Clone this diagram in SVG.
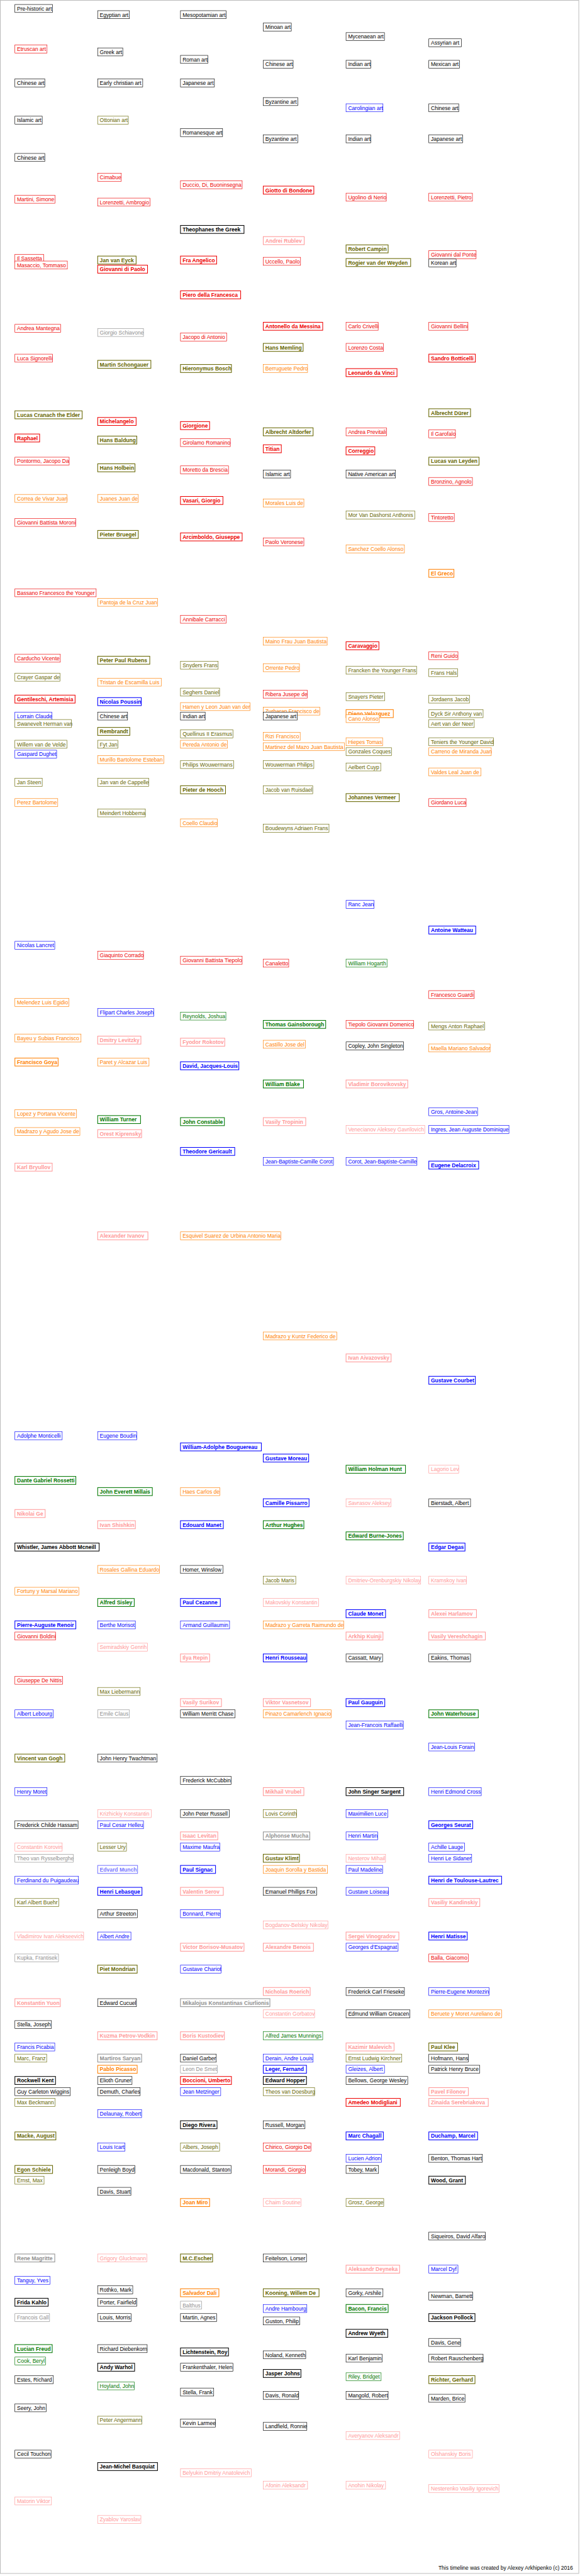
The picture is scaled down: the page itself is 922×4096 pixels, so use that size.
<svg xmlns="http://www.w3.org/2000/svg" width="922" height="4096" viewBox="0 0 922 4096">
<style>
text{font-family:"Liberation Sans",Arial,sans-serif;font-size:13px}
rect{fill:#fff;stroke-width:1}
.B text{font-weight:bold}
.B rect{stroke-width:1.6}
.k rect{stroke:#000}.k text{fill:#000}
.r rect{stroke:#ee0000}.r text{fill:#ee0000}
.o rect{stroke:#666600}.o text{fill:#666600}
.b rect{stroke:#0000ff}.b text{fill:#0000ff}
.g rect{stroke:#007700}.g text{fill:#007700}
.n rect{stroke:#ff7f00}.n text{fill:#ff7f00}
.p rect{stroke:#ff9999}.p text{fill:#ff9999}
.y rect{stroke:#909090}.y text{fill:#909090}
.v rect{stroke:#7777ff}.v text{fill:#7777ff}
#frame{fill:#fff;stroke:#bbbbbb;stroke-width:1.5}
#footer{font-size:13px;fill:#000}
</style>
<g transform="scale(0.658)">
<rect id="frame" x="0.75" y="0.75" width="1397.5" height="6218"/>
<g id="connectors"/>
<g id="nodes">
<g id="n1" class="k"><rect x="36" y="10.8" width="91" height="19.3"/><text x="41" y="25.3">Pre-historic art</text></g>
<g id="n2" class="r"><rect x="36" y="108.8" width="77.6" height="19.3"/><text x="41" y="123.3">Etruscan art</text></g>
<g id="n3" class="k"><rect x="36" y="190.8" width="72.2" height="19.3"/><text x="41" y="205.3">Chinese art</text></g>
<g id="n4" class="k"><rect x="36" y="280.8" width="66" height="19.3"/><text x="41" y="295.3">Islamic art</text></g>
<g id="n5" class="k"><rect x="36" y="370.8" width="72.2" height="19.3"/><text x="41" y="385.3">Chinese art</text></g>
<g id="n6" class="r"><rect x="36" y="471.8" width="97.2" height="19.3"/><text x="41" y="486.3">Martini, Simone</text></g>
<g id="n7" class="k"><rect x="236" y="25.8" width="76.7" height="19.3"/><text x="241" y="40.3">Egyptian art</text></g>
<g id="n8" class="k"><rect x="236" y="115.8" width="60.6" height="19.3"/><text x="241" y="130.3">Greek art</text></g>
<g id="n9" class="k"><rect x="236" y="190.8" width="108.8" height="19.3"/><text x="241" y="205.3">Early christian art</text></g>
<g id="n10" class="o"><rect x="236" y="280.8" width="74" height="19.3"/><text x="241" y="295.3">Ottonian art</text></g>
<g id="n11" class="r"><rect x="236" y="418.8" width="57" height="19.3"/><text x="241" y="433.3">Cimabue</text></g>
<g id="n12" class="r"><rect x="236" y="478.8" width="126.7" height="19.3"/><text x="241" y="493.3">Lorenzetti, Ambrogio</text></g>
<g id="n13" class="k"><rect x="436" y="25.8" width="110.6" height="19.3"/><text x="441" y="40.3">Mesopotamian art</text></g>
<g id="n14" class="k"><rect x="436" y="133.8" width="66" height="19.3"/><text x="441" y="148.3">Roman art</text></g>
<g id="n15" class="k"><rect x="436" y="190.8" width="82" height="19.3"/><text x="441" y="205.3">Japanese art</text></g>
<g id="n16" class="k"><rect x="436" y="310.8" width="101.7" height="19.3"/><text x="441" y="325.3">Romanesque art</text></g>
<g id="n17" class="r"><rect x="436" y="436.8" width="149" height="19.3"/><text x="441" y="451.3">Duccio, Di, Buoninsegna</text></g>
<g id="n18" class="k"><rect x="636" y="55.8" width="67.8" height="19.3"/><text x="641" y="70.3">Minoan art</text></g>
<g id="n19" class="k"><rect x="636" y="145.8" width="72.2" height="19.3"/><text x="641" y="160.3">Chinese art</text></g>
<g id="n20" class="k"><rect x="636" y="235.8" width="83.8" height="19.3"/><text x="641" y="250.3">Byzantine art</text></g>
<g id="n21" class="k"><rect x="636" y="325.8" width="83.8" height="19.3"/><text x="641" y="340.3">Byzantine art</text></g>
<g id="n22" class="r B"><rect x="636" y="449.8" width="122.2" height="19.3"/><text x="641" y="464.3">Giotto di Bondone</text></g>
<g id="n23" class="k"><rect x="836" y="78.8" width="92.8" height="19.3"/><text x="841" y="93.3">Mycenaean art</text></g>
<g id="n24" class="k"><rect x="836" y="145.8" width="59.7" height="19.3"/><text x="841" y="160.3">Indian art</text></g>
<g id="n25" class="b"><rect x="836" y="250.8" width="89.2" height="19.3"/><text x="841" y="265.3">Carolingian art</text></g>
<g id="n26" class="k"><rect x="836" y="325.8" width="59.7" height="19.3"/><text x="841" y="340.3">Indian art</text></g>
<g id="n27" class="r"><rect x="836" y="466.8" width="97.2" height="19.3"/><text x="841" y="481.3">Ugolino di Nerio</text></g>
<g id="n28" class="k"><rect x="1036" y="93.8" width="78.5" height="19.3"/><text x="1041" y="108.3">Assyrian art</text></g>
<g id="n29" class="k"><rect x="1036" y="145.8" width="74" height="19.3"/><text x="1041" y="160.3">Mexican art</text></g>
<g id="n30" class="k"><rect x="1036" y="250.8" width="72.2" height="19.3"/><text x="1041" y="265.3">Chinese art</text></g>
<g id="n31" class="k"><rect x="1036" y="325.8" width="82" height="19.3"/><text x="1041" y="340.3">Japanese art</text></g>
<g id="n32" class="r"><rect x="1036" y="466.8" width="105.3" height="19.3"/><text x="1041" y="481.3">Lorenzetti, Pietro</text></g>
<g id="n33" class="r"><rect x="36" y="614.8" width="69.5" height="19.3"/><text x="41" y="629.3">Il Sassetta</text></g>
<g id="n34" class="r"><rect x="36" y="630.8" width="126.7" height="19.3"/><text x="41" y="645.3">Masaccio, Tommaso</text></g>
<g id="n35" class="r"><rect x="36" y="783.8" width="110.6" height="19.3"/><text x="41" y="798.3">Andrea Mantegna</text></g>
<g id="n36" class="r"><rect x="36" y="855.8" width="91" height="19.3"/><text x="41" y="870.3">Luca Signorelli</text></g>
<g id="n37" class="o B"><rect x="36" y="992.8" width="162.4" height="19.3"/><text x="41" y="1007.3">Lucas Cranach the Elder</text></g>
<g id="n38" class="o B"><rect x="236" y="618.8" width="92.8" height="19.3"/><text x="241" y="633.3">Jan van Eyck</text></g>
<g id="n39" class="r B"><rect x="236" y="640.8" width="120.4" height="19.3"/><text x="241" y="655.3">Giovanni di Paolo</text></g>
<g id="n40" class="y"><rect x="236" y="793.8" width="110.6" height="19.3"/><text x="241" y="808.3">Giorgio Schiavone</text></g>
<g id="n41" class="o B"><rect x="236" y="870.8" width="128.5" height="19.3"/><text x="241" y="885.3">Martin Schongauer</text></g>
<g id="n42" class="r B"><rect x="236" y="1008.8" width="92.8" height="19.3"/><text x="241" y="1023.3">Michelangelo</text></g>
<g id="n43" class="k B"><rect x="436" y="544.8" width="153.5" height="19.3"/><text x="441" y="559.3">Theophanes the Greek</text></g>
<g id="n44" class="r B"><rect x="436" y="618.8" width="87.4" height="19.3"/><text x="441" y="633.3">Fra Angelico</text></g>
<g id="n45" class="r B"><rect x="436" y="702.8" width="145.4" height="19.3"/><text x="441" y="717.3">Piero della Francesca</text></g>
<g id="n46" class="r"><rect x="436" y="804.8" width="111.5" height="19.3"/><text x="441" y="819.3">Jacopo di Antonio</text></g>
<g id="n47" class="o B"><rect x="436" y="880.8" width="123.1" height="19.3"/><text x="441" y="895.3">Hieronymus Bosch</text></g>
<g id="n48" class="r B"><rect x="436" y="1018.8" width="70.4" height="19.3"/><text x="441" y="1033.3">Giorgione</text></g>
<g id="n49" class="p B"><rect x="636" y="571.8" width="99" height="19.3"/><text x="641" y="586.3">Andrei Rublev</text></g>
<g id="n50" class="r"><rect x="636" y="621.8" width="90.1" height="19.3"/><text x="641" y="636.3">Uccello, Paolo</text></g>
<g id="n51" class="r B"><rect x="636" y="778.8" width="143.6" height="19.3"/><text x="641" y="793.3">Antonello da Messina</text></g>
<g id="n52" class="o B"><rect x="636" y="829.8" width="96.3" height="19.3"/><text x="641" y="844.3">Hans Memling</text></g>
<g id="n53" class="n"><rect x="636" y="880.8" width="107" height="19.3"/><text x="641" y="895.3">Berruguete Pedro</text></g>
<g id="n54" class="o B"><rect x="636" y="1033.8" width="120.4" height="19.3"/><text x="641" y="1048.3">Albrecht Altdorfer</text></g>
<g id="n55" class="o B"><rect x="836" y="591.8" width="101.7" height="19.3"/><text x="841" y="606.3">Robert Campin</text></g>
<g id="n56" class="o B"><rect x="836" y="624.8" width="156.1" height="19.3"/><text x="841" y="639.3">Rogier van der Weyden</text></g>
<g id="n57" class="r"><rect x="836" y="778.8" width="77.6" height="19.3"/><text x="841" y="793.3">Carlo Crivelli</text></g>
<g id="n58" class="r"><rect x="836" y="829.8" width="90.1" height="19.3"/><text x="841" y="844.3">Lorenzo Costa</text></g>
<g id="n59" class="r B"><rect x="836" y="890.8" width="123.1" height="19.3"/><text x="841" y="905.3">Leonardo da Vinci</text></g>
<g id="n60" class="r"><rect x="836" y="1033.8" width="98.1" height="19.3"/><text x="841" y="1048.3">Andrea Previtali</text></g>
<g id="n61" class="r"><rect x="1036" y="605.8" width="114.2" height="19.3"/><text x="1041" y="620.3">Giovanni dal Ponte</text></g>
<g id="n62" class="k"><rect x="1036" y="625.8" width="66" height="19.3"/><text x="1041" y="640.3">Korean art</text></g>
<g id="n63" class="r"><rect x="1036" y="778.8" width="94.5" height="19.3"/><text x="1041" y="793.3">Giovanni Bellini</text></g>
<g id="n64" class="r B"><rect x="1036" y="855.8" width="112.4" height="19.3"/><text x="1041" y="870.3">Sandro Botticelli</text></g>
<g id="n65" class="o B"><rect x="1036" y="987.8" width="100.8" height="19.3"/><text x="1041" y="1002.3">Albrecht Dürer</text></g>
<g id="n66" class="r"><rect x="1036" y="1038.8" width="64.2" height="19.3"/><text x="1041" y="1053.3">Il Garofalo</text></g>
<g id="n67" class="r B"><rect x="36" y="1048.8" width="59.7" height="19.3"/><text x="41" y="1063.3">Raphael</text></g>
<g id="n68" class="r"><rect x="36" y="1104.8" width="131.1" height="19.3"/><text x="41" y="1119.3">Pontormo, Jacopo Da</text></g>
<g id="n69" class="n"><rect x="36" y="1194.8" width="125.8" height="19.3"/><text x="41" y="1209.3">Correa de Vivar Juan</text></g>
<g id="n70" class="r"><rect x="36" y="1252.8" width="147.2" height="19.3"/><text x="41" y="1267.3">Giovanni Battista Moroni</text></g>
<g id="n71" class="r"><rect x="36" y="1422.8" width="196.3" height="19.3"/><text x="41" y="1437.3">Bassano Francesco the Younger</text></g>
<g id="n72" class="o B"><rect x="236" y="1053.8" width="94.5" height="19.3"/><text x="241" y="1068.3">Hans Baldung</text></g>
<g id="n73" class="o B"><rect x="236" y="1120.8" width="90.1" height="19.3"/><text x="241" y="1135.3">Hans Holbein</text></g>
<g id="n74" class="n"><rect x="236" y="1194.8" width="98.1" height="19.3"/><text x="241" y="1209.3">Juanes Juan de</text></g>
<g id="n75" class="o B"><rect x="236" y="1281.8" width="98.1" height="19.3"/><text x="241" y="1296.3">Pieter Bruegel</text></g>
<g id="n76" class="n"><rect x="236" y="1445.8" width="144.5" height="19.3"/><text x="241" y="1460.3">Pantoja de la Cruz Juan</text></g>
<g id="n77" class="r"><rect x="436" y="1059.8" width="120.4" height="19.3"/><text x="441" y="1074.3">Girolamo Romanino</text></g>
<g id="n78" class="r"><rect x="436" y="1125.8" width="116" height="19.3"/><text x="441" y="1140.3">Moretto da Brescia</text></g>
<g id="n79" class="r B"><rect x="436" y="1199.8" width="102.6" height="19.3"/><text x="441" y="1214.3">Vasari, Giorgio</text></g>
<g id="n80" class="r B"><rect x="436" y="1287.8" width="149" height="19.3"/><text x="441" y="1302.3">Arcimboldo, Giuseppe</text></g>
<g id="n81" class="r"><rect x="436" y="1486.8" width="110.6" height="19.3"/><text x="441" y="1501.3">Annibale Carracci</text></g>
<g id="n82" class="r B"><rect x="636" y="1074.8" width="43.6" height="19.3"/><text x="641" y="1089.3">Titian</text></g>
<g id="n83" class="k"><rect x="636" y="1135.8" width="66" height="19.3"/><text x="641" y="1150.3">Islamic art</text></g>
<g id="n84" class="n"><rect x="636" y="1205.8" width="98.1" height="19.3"/><text x="641" y="1220.3">Morales Luis de</text></g>
<g id="n85" class="r"><rect x="636" y="1299.8" width="98.1" height="19.3"/><text x="641" y="1314.3">Paolo Veronese</text></g>
<g id="n86" class="n"><rect x="636" y="1539.8" width="154.4" height="19.3"/><text x="641" y="1554.3">Maino Frau Juan Bautista</text></g>
<g id="n87" class="r B"><rect x="836" y="1079.8" width="69.5" height="19.3"/><text x="841" y="1094.3">Correggio</text></g>
<g id="n88" class="k"><rect x="836" y="1135.8" width="119.5" height="19.3"/><text x="841" y="1150.3">Native American art</text></g>
<g id="n89" class="o"><rect x="836" y="1234.8" width="166" height="19.3"/><text x="841" y="1249.3">Mor Van Dashorst Anthonis</text></g>
<g id="n90" class="n"><rect x="836" y="1316.8" width="141" height="19.3"/><text x="841" y="1331.3">Sanchez Coello Alonso</text></g>
<g id="n91" class="r B"><rect x="836" y="1550.8" width="79.4" height="19.3"/><text x="841" y="1565.3">Caravaggio</text></g>
<g id="n92" class="o B"><rect x="1036" y="1104.8" width="121.3" height="19.3"/><text x="1041" y="1119.3">Lucas van Leyden</text></g>
<g id="n93" class="r"><rect x="1036" y="1153.8" width="105.3" height="19.3"/><text x="1041" y="1168.3">Bronzino, Agnolo</text></g>
<g id="n94" class="r"><rect x="1036" y="1240.8" width="61.5" height="19.3"/><text x="1041" y="1255.3">Tintoretto</text></g>
<g id="n95" class="n B"><rect x="1036" y="1375.8" width="60.6" height="19.3"/><text x="1041" y="1390.3">El Greco</text></g>
<g id="n96" class="r"><rect x="36" y="1580.8" width="109.7" height="19.3"/><text x="41" y="1595.3">Carducho Vicente</text></g>
<g id="n97" class="o"><rect x="36" y="1626.8" width="108.8" height="19.3"/><text x="41" y="1641.3">Crayer Gaspar de</text></g>
<g id="n98" class="r B"><rect x="36" y="1679.8" width="145.4" height="19.3"/><text x="41" y="1694.3">Gentileschi, Artemisia</text></g>
<g id="n99" class="b"><rect x="36" y="1720.8" width="89.2" height="19.3"/><text x="41" y="1735.3">Lorrain Claude</text></g>
<g id="n100" class="o"><rect x="36" y="1738.8" width="136.5" height="19.3"/><text x="41" y="1753.3">Swanevelt Herman van</text></g>
<g id="n101" class="o"><rect x="36" y="1788.8" width="125.8" height="19.3"/><text x="41" y="1803.3">Willem van de Velde</text></g>
<g id="n102" class="b"><rect x="36" y="1812.8" width="100.8" height="19.3"/><text x="41" y="1827.3">Gaspard Dughet</text></g>
<g id="n103" class="o"><rect x="36" y="1880.8" width="66" height="19.3"/><text x="41" y="1895.3">Jan Steen</text></g>
<g id="n104" class="n"><rect x="36" y="1929.8" width="103.5" height="19.3"/><text x="41" y="1944.3">Perez Bartolome</text></g>
<g id="n105" class="o B"><rect x="236" y="1585.8" width="125.8" height="19.3"/><text x="241" y="1600.3">Peter Paul Rubens</text></g>
<g id="n106" class="n"><rect x="236" y="1638.8" width="153.5" height="19.3"/><text x="241" y="1653.3">Tristan de Escamilla Luis</text></g>
<g id="n107" class="b B"><rect x="236" y="1685.8" width="105.3" height="19.3"/><text x="241" y="1700.3">Nicolas Poussin</text></g>
<g id="n108" class="k"><rect x="236" y="1720.8" width="72.2" height="19.3"/><text x="241" y="1735.3">Chinese art</text></g>
<g id="n109" class="o B"><rect x="236" y="1757.8" width="77.6" height="19.3"/><text x="241" y="1772.3">Rembrandt</text></g>
<g id="n110" class="o"><rect x="236" y="1788.8" width="49" height="19.3"/><text x="241" y="1803.3">Fyt Jan</text></g>
<g id="n111" class="n"><rect x="236" y="1825.8" width="159.7" height="19.3"/><text x="241" y="1840.3">Murillo Bartolome Esteban</text></g>
<g id="n112" class="o"><rect x="236" y="1880.8" width="123.1" height="19.3"/><text x="241" y="1895.3">Jan van de Cappelle</text></g>
<g id="n113" class="o"><rect x="236" y="1954.8" width="115.1" height="19.3"/><text x="241" y="1969.3">Meindert Hobbema</text></g>
<g id="n114" class="o"><rect x="436" y="1597.8" width="91" height="19.3"/><text x="441" y="1612.3">Snyders Frans</text></g>
<g id="n115" class="o"><rect x="436" y="1662.8" width="94.5" height="19.3"/><text x="441" y="1677.3">Seghers Daniel</text></g>
<g id="n116" class="n"><rect x="436" y="1697.8" width="167.8" height="19.3"/><text x="441" y="1712.3">Hamen y Leon Juan van der</text></g>
<g id="n117" class="k"><rect x="436" y="1720.8" width="59.7" height="19.3"/><text x="441" y="1735.3">Indian art</text></g>
<g id="n118" class="o"><rect x="436" y="1763.8" width="126.7" height="19.3"/><text x="441" y="1778.3">Quellinus II Erasmus</text></g>
<g id="n119" class="n"><rect x="436" y="1788.8" width="113.3" height="19.3"/><text x="441" y="1803.3">Pereda Antonio de</text></g>
<g id="n120" class="o"><rect x="436" y="1837.8" width="128.5" height="19.3"/><text x="441" y="1852.3">Philips Wouwermans</text></g>
<g id="n121" class="o B"><rect x="436" y="1898.8" width="108.8" height="19.3"/><text x="441" y="1913.3">Pieter de Hooch</text></g>
<g id="n122" class="n"><rect x="436" y="1978.8" width="89.2" height="19.3"/><text x="441" y="1993.3">Coello Claudio</text></g>
<g id="n123" class="n"><rect x="636" y="1603.8" width="87.4" height="19.3"/><text x="641" y="1618.3">Orrente Pedro</text></g>
<g id="n124" class="r"><rect x="636" y="1667.8" width="106.1" height="19.3"/><text x="641" y="1682.3">Ribera Jusepe de</text></g>
<g id="n125" class="n"><rect x="636" y="1708.8" width="136.5" height="19.3"/><text x="641" y="1723.3">Zurbaran Francisco de</text></g>
<g id="n126" class="k"><rect x="636" y="1720.8" width="82" height="19.3"/><text x="641" y="1735.3">Japanese art</text></g>
<g id="n127" class="n"><rect x="636" y="1769.8" width="89.2" height="19.3"/><text x="641" y="1784.3">Rizi Francisco</text></g>
<g id="n128" class="n"><rect x="636" y="1794.8" width="196.3" height="19.3"/><text x="641" y="1809.3">Martinez del Mazo Juan Bautista</text></g>
<g id="n129" class="o"><rect x="636" y="1837.8" width="122.2" height="19.3"/><text x="641" y="1852.3">Wouwerman Philips</text></g>
<g id="n130" class="o"><rect x="636" y="1898.8" width="119.5" height="19.3"/><text x="641" y="1913.3">Jacob van Ruisdael</text></g>
<g id="n131" class="o"><rect x="636" y="1991.8" width="158.8" height="19.3"/><text x="641" y="2006.3">Boudewyns Adriaen Frans</text></g>
<g id="n132" class="o"><rect x="836" y="1609.8" width="170.4" height="19.3"/><text x="841" y="1624.3">Francken the Younger Frans</text></g>
<g id="n133" class="o"><rect x="836" y="1673.8" width="93.6" height="19.3"/><text x="841" y="1688.3">Snayers Pieter</text></g>
<g id="n134" class="n B"><rect x="836" y="1714.8" width="114.2" height="19.3"/><text x="841" y="1729.3">Diego Velazquez</text></g>
<g id="n135" class="n"><rect x="836" y="1726.8" width="80.3" height="19.3"/><text x="841" y="1741.3">Cano Alonso</text></g>
<g id="n136" class="n"><rect x="836" y="1782.8" width="88.3" height="19.3"/><text x="841" y="1797.3">Hiepes Tomas</text></g>
<g id="n137" class="o"><rect x="836" y="1806.8" width="109.7" height="19.3"/><text x="841" y="1821.3">Gonzales Coques</text></g>
<g id="n138" class="o"><rect x="836" y="1843.8" width="83.8" height="19.3"/><text x="841" y="1858.3">Aelbert Cuyp</text></g>
<g id="n139" class="o B"><rect x="836" y="1917.8" width="128.5" height="19.3"/><text x="841" y="1932.3">Johannes Vermeer</text></g>
<g id="n140" class="r"><rect x="1036" y="1574.8" width="70.4" height="19.3"/><text x="1041" y="1589.3">Reni Guido</text></g>
<g id="n141" class="o"><rect x="1036" y="1615.8" width="69.5" height="19.3"/><text x="1041" y="1630.3">Frans Hals</text></g>
<g id="n142" class="o"><rect x="1036" y="1679.8" width="98.1" height="19.3"/><text x="1041" y="1694.3">Jordaens Jacob</text></g>
<g id="n143" class="o"><rect x="1036" y="1714.8" width="131.1" height="19.3"/><text x="1041" y="1729.3">Dyck Sir Anthony van</text></g>
<g id="n144" class="o"><rect x="1036" y="1738.8" width="109.7" height="19.3"/><text x="1041" y="1753.3">Aert van der Neer</text></g>
<g id="n145" class="o"><rect x="1036" y="1782.8" width="156.1" height="19.3"/><text x="1041" y="1797.3">Teniers the Younger David</text></g>
<g id="n146" class="n"><rect x="1036" y="1806.8" width="150.8" height="19.3"/><text x="1041" y="1821.3">Carreno de Miranda Juan</text></g>
<g id="n147" class="n"><rect x="1036" y="1855.8" width="125.8" height="19.3"/><text x="1041" y="1870.3">Valdes Leal Juan de</text></g>
<g id="n148" class="r"><rect x="1036" y="1929.8" width="90.1" height="19.3"/><text x="1041" y="1944.3">Giordano Luca</text></g>
<g id="n149" class="b"><rect x="36" y="2274.8" width="96.3" height="19.3"/><text x="41" y="2289.3">Nicolas Lancret</text></g>
<g id="n150" class="n"><rect x="36" y="2412.8" width="130.3" height="19.3"/><text x="41" y="2427.3">Melendez Luis Egidio</text></g>
<g id="n151" class="n"><rect x="36" y="2498.8" width="159.7" height="19.3"/><text x="41" y="2513.3">Bayeu y Subias Francisco</text></g>
<g id="n152" class="n B"><rect x="36" y="2556.8" width="104.4" height="19.3"/><text x="41" y="2571.3">Francisco Goya</text></g>
<g id="n153" class="r"><rect x="236" y="2298.8" width="110.6" height="19.3"/><text x="241" y="2313.3">Giaquinto Corrado</text></g>
<g id="n154" class="b"><rect x="236" y="2436.8" width="135.6" height="19.3"/><text x="241" y="2451.3">Flipart Charles Joseph</text></g>
<g id="n155" class="p B"><rect x="236" y="2503.8" width="104.4" height="19.3"/><text x="241" y="2518.3">Dmitry Levitzky</text></g>
<g id="n156" class="n"><rect x="236" y="2556.8" width="124" height="19.3"/><text x="241" y="2571.3">Paret y Alcazar Luis</text></g>
<g id="n157" class="r"><rect x="436" y="2310.8" width="149" height="19.3"/><text x="441" y="2325.3">Giovanni Battista Tiepolo</text></g>
<g id="n158" class="g"><rect x="436" y="2445.8" width="109.7" height="19.3"/><text x="441" y="2460.3">Reynolds, Joshua</text></g>
<g id="n159" class="p B"><rect x="436" y="2508.8" width="107" height="19.3"/><text x="441" y="2523.3">Fyodor Rokotov</text></g>
<g id="n160" class="b B"><rect x="436" y="2565.8" width="141" height="19.3"/><text x="441" y="2580.3">David, Jacques-Louis</text></g>
<g id="n161" class="r"><rect x="636" y="2317.8" width="61.5" height="19.3"/><text x="641" y="2332.3">Canaletto</text></g>
<g id="n162" class="g B"><rect x="636" y="2465.8" width="150.8" height="19.3"/><text x="641" y="2480.3">Thomas Gainsborough</text></g>
<g id="n163" class="n"><rect x="636" y="2513.8" width="101.7" height="19.3"/><text x="641" y="2528.3">Castillo Jose del</text></g>
<g id="n164" class="b"><rect x="836" y="2175.8" width="67.8" height="19.3"/><text x="841" y="2190.3">Ranc Jean</text></g>
<g id="n165" class="g"><rect x="836" y="2317.8" width="99" height="19.3"/><text x="841" y="2332.3">William Hogarth</text></g>
<g id="n166" class="r"><rect x="836" y="2465.8" width="163.3" height="19.3"/><text x="841" y="2480.3">Tiepolo Giovanni Domenico</text></g>
<g id="n167" class="k"><rect x="836" y="2517.8" width="139.2" height="19.3"/><text x="841" y="2532.3">Copley, John Singleton</text></g>
<g id="n168" class="b B"><rect x="1036" y="2237.8" width="113.3" height="19.3"/><text x="1041" y="2252.3">Antoine Watteau</text></g>
<g id="n169" class="r"><rect x="1036" y="2393.8" width="109.7" height="19.3"/><text x="1041" y="2408.3">Francesco Guardi</text></g>
<g id="n170" class="o"><rect x="1036" y="2469.8" width="134.7" height="19.3"/><text x="1041" y="2484.3">Mengs Anton Raphael</text></g>
<g id="n171" class="n"><rect x="1036" y="2522.8" width="148.1" height="19.3"/><text x="1041" y="2537.3">Maella Mariano Salvador</text></g>
<g id="n172" class="n"><rect x="36" y="2681.8" width="149" height="19.3"/><text x="41" y="2696.3">Lopez y Portana Vicente</text></g>
<g id="n173" class="n"><rect x="36" y="2724.8" width="157" height="19.3"/><text x="41" y="2739.3">Madrazo y Agudo Jose de</text></g>
<g id="n174" class="p B"><rect x="36" y="2810.8" width="90.1" height="19.3"/><text x="41" y="2825.3">Karl Bryullov</text></g>
<g id="n175" class="g B"><rect x="236" y="2695.8" width="103.5" height="19.3"/><text x="241" y="2710.3">William Turner</text></g>
<g id="n176" class="p B"><rect x="236" y="2729.8" width="106.1" height="19.3"/><text x="241" y="2744.3">Orest Kiprensky</text></g>
<g id="n177" class="p B"><rect x="236" y="2976.8" width="121.3" height="19.3"/><text x="241" y="2991.3">Alexander Ivanov</text></g>
<g id="n178" class="g B"><rect x="436" y="2700.8" width="106.1" height="19.3"/><text x="441" y="2715.3">John Constable</text></g>
<g id="n179" class="b B"><rect x="436" y="2772.8" width="131.1" height="19.3"/><text x="441" y="2787.3">Theodore Gericault</text></g>
<g id="n180" class="n"><rect x="436" y="2976.8" width="242.8" height="19.3"/><text x="441" y="2991.3">Esquivel Suarez de Urbina Antonio Maria</text></g>
<g id="n181" class="g B"><rect x="636" y="2609.8" width="97.2" height="19.3"/><text x="641" y="2624.3">William Blake</text></g>
<g id="n182" class="p B"><rect x="636" y="2700.8" width="102.6" height="19.3"/><text x="641" y="2715.3">Vasily Tropinin</text></g>
<g id="n183" class="b"><rect x="636" y="2796.8" width="169.5" height="19.3"/><text x="641" y="2811.3">Jean-Baptiste-Camille Corot</text></g>
<g id="n184" class="p B"><rect x="836" y="2609.8" width="149" height="19.3"/><text x="841" y="2624.3">Vladimir Borovikovsky</text></g>
<g id="n185" class="p"><rect x="836" y="2719.8" width="190.1" height="19.3"/><text x="841" y="2734.3">Venecianov Aleksey Gavrilovich</text></g>
<g id="n186" class="b"><rect x="836" y="2796.8" width="171.3" height="19.3"/><text x="841" y="2811.3">Corot, Jean-Baptiste-Camille</text></g>
<g id="n187" class="b"><rect x="1036" y="2676.8" width="117.8" height="19.3"/><text x="1041" y="2691.3">Gros, Antoine-Jean</text></g>
<g id="n188" class="b"><rect x="1036" y="2719.8" width="193.6" height="19.3"/><text x="1041" y="2734.3">Ingres, Jean Auguste Dominique</text></g>
<g id="n189" class="b B"><rect x="1036" y="2805.8" width="120.4" height="19.3"/><text x="1041" y="2820.3">Eugene Delacroix</text></g>
<g id="n190" class="b"><rect x="36" y="3459.8" width="114.2" height="19.3"/><text x="41" y="3474.3">Adolphe Monticelli</text></g>
<g id="n191" class="g B"><rect x="36" y="3567.8" width="147.2" height="19.3"/><text x="41" y="3582.3">Dante Gabriel Rossetti</text></g>
<g id="n192" class="b"><rect x="236" y="3459.8" width="94.5" height="19.3"/><text x="241" y="3474.3">Eugene Boudin</text></g>
<g id="n193" class="g B"><rect x="236" y="3594.8" width="132" height="19.3"/><text x="241" y="3609.3">John Everett Millais</text></g>
<g id="n194" class="b B"><rect x="436" y="3486.8" width="195.4" height="19.3"/><text x="441" y="3501.3">William-Adolphe Bouguereau</text></g>
<g id="n195" class="n"><rect x="436" y="3594.8" width="95.4" height="19.3"/><text x="441" y="3609.3">Haes Carlos de</text></g>
<g id="n196" class="n"><rect x="636" y="3218.8" width="177.6" height="19.3"/><text x="641" y="3233.3">Madrazo y Kuntz Federico de</text></g>
<g id="n197" class="b B"><rect x="636" y="3513.8" width="109.7" height="19.3"/><text x="641" y="3528.3">Gustave Moreau</text></g>
<g id="n198" class="b B"><rect x="636" y="3621.8" width="110.6" height="19.3"/><text x="641" y="3636.3">Camille Pissarro</text></g>
<g id="n199" class="p B"><rect x="836" y="3271.8" width="108.8" height="19.3"/><text x="841" y="3286.3">Ivan Aivazovsky</text></g>
<g id="n200" class="g B"><rect x="836" y="3540.8" width="143.6" height="19.3"/><text x="841" y="3555.3">William Holman Hunt</text></g>
<g id="n201" class="p"><rect x="836" y="3621.8" width="108.8" height="19.3"/><text x="841" y="3636.3">Savrasov Aleksey</text></g>
<g id="n202" class="b B"><rect x="1036" y="3325.8" width="112.4" height="19.3"/><text x="1041" y="3340.3">Gustave Courbet</text></g>
<g id="n203" class="p"><rect x="1036" y="3540.8" width="72.2" height="19.3"/><text x="1041" y="3555.3">Lagorio Lev</text></g>
<g id="n204" class="k"><rect x="1036" y="3621.8" width="100.8" height="19.3"/><text x="1041" y="3636.3">Bierstadt, Albert</text></g>
<g id="n205" class="p B"><rect x="36" y="3647.8" width="73.1" height="19.3"/><text x="41" y="3662.3">Nikolai Ge</text></g>
<g id="n206" class="k B"><rect x="36" y="3728.8" width="203.5" height="19.3"/><text x="41" y="3743.3">Whistler, James Abbott Mcneill</text></g>
<g id="n207" class="n"><rect x="36" y="3835.8" width="154.4" height="19.3"/><text x="41" y="3850.3">Fortuny y Marsal Mariano</text></g>
<g id="n208" class="b B"><rect x="36" y="3916.8" width="147.2" height="19.3"/><text x="41" y="3931.3">Pierre-Auguste Renoir</text></g>
<g id="n209" class="r"><rect x="36" y="3943.8" width="98.1" height="19.3"/><text x="41" y="3958.3">Giovanni Boldini</text></g>
<g id="n210" class="r"><rect x="36" y="4050.8" width="115.1" height="19.3"/><text x="41" y="4065.3">Giuseppe De Nittis</text></g>
<g id="n211" class="b"><rect x="36" y="4131.8" width="92.8" height="19.3"/><text x="41" y="4146.3">Albert Lebourg</text></g>
<g id="n212" class="p B"><rect x="236" y="3674.8" width="91" height="19.3"/><text x="241" y="3689.3">Ivan Shishkin</text></g>
<g id="n213" class="n"><rect x="236" y="3782.8" width="149" height="19.3"/><text x="241" y="3797.3">Rosales Gallina Eduardo</text></g>
<g id="n214" class="g B"><rect x="236" y="3862.8" width="88.3" height="19.3"/><text x="241" y="3877.3">Alfred Sisley</text></g>
<g id="n215" class="b"><rect x="236" y="3916.8" width="91" height="19.3"/><text x="241" y="3931.3">Berthe Morisot</text></g>
<g id="n216" class="p"><rect x="236" y="3970.8" width="120.4" height="19.3"/><text x="241" y="3985.3">Semiradskiy Genrih</text></g>
<g id="n217" class="o"><rect x="236" y="4077.8" width="102.6" height="19.3"/><text x="241" y="4092.3">Max Liebermann</text></g>
<g id="n218" class="y"><rect x="236" y="4131.8" width="76.7" height="19.3"/><text x="241" y="4146.3">Emile Claus</text></g>
<g id="n219" class="b B"><rect x="436" y="3674.8" width="103.5" height="19.3"/><text x="441" y="3689.3">Edouard Manet</text></g>
<g id="n220" class="k"><rect x="436" y="3782.8" width="102.6" height="19.3"/><text x="441" y="3797.3">Homer, Winslow</text></g>
<g id="n221" class="b B"><rect x="436" y="3862.8" width="96.3" height="19.3"/><text x="441" y="3877.3">Paul Cezanne</text></g>
<g id="n222" class="b"><rect x="436" y="3916.8" width="118.6" height="19.3"/><text x="441" y="3931.3">Armand Guillaumin</text></g>
<g id="n223" class="p B"><rect x="436" y="3996.8" width="70.4" height="19.3"/><text x="441" y="4011.3">Ilya Repin</text></g>
<g id="n224" class="p B"><rect x="436" y="4104.8" width="99" height="19.3"/><text x="441" y="4119.3">Vasily Surikov</text></g>
<g id="n225" class="k"><rect x="436" y="4131.8" width="132" height="19.3"/><text x="441" y="4146.3">William Merritt Chase</text></g>
<g id="n226" class="g B"><rect x="636" y="3674.8" width="98.1" height="19.3"/><text x="641" y="3689.3">Arthur Hughes</text></g>
<g id="n227" class="o"><rect x="636" y="3808.8" width="78.5" height="19.3"/><text x="641" y="3823.3">Jacob Maris</text></g>
<g id="n228" class="p"><rect x="636" y="3862.8" width="133.8" height="19.3"/><text x="641" y="3877.3">Makovskiy Konstantin</text></g>
<g id="n229" class="n"><rect x="636" y="3916.8" width="194.5" height="19.3"/><text x="641" y="3931.3">Madrazo y Garreta Raimundo de</text></g>
<g id="n230" class="b B"><rect x="636" y="3996.8" width="105.3" height="19.3"/><text x="641" y="4011.3">Henri Rousseau</text></g>
<g id="n231" class="p B"><rect x="636" y="4104.8" width="114.2" height="19.3"/><text x="641" y="4119.3">Viktor Vasnetsov</text></g>
<g id="n232" class="n"><rect x="636" y="4131.8" width="164.2" height="19.3"/><text x="641" y="4146.3">Pinazo Camarlench Ignacio</text></g>
<g id="n233" class="g B"><rect x="836" y="3701.8" width="138.3" height="19.3"/><text x="841" y="3716.3">Edward Burne-Jones</text></g>
<g id="n234" class="p"><rect x="836" y="3808.8" width="180.3" height="19.3"/><text x="841" y="3823.3">Dmitriev-Orenburgskiy Nikolay</text></g>
<g id="n235" class="b B"><rect x="836" y="3889.8" width="95.4" height="19.3"/><text x="841" y="3904.3">Claude Monet</text></g>
<g id="n236" class="p B"><rect x="836" y="3943.8" width="89.2" height="19.3"/><text x="841" y="3958.3">Arkhip Kuinji</text></g>
<g id="n237" class="k"><rect x="836" y="3996.8" width="88.3" height="19.3"/><text x="841" y="4011.3">Cassatt, Mary</text></g>
<g id="n238" class="b B"><rect x="836" y="4104.8" width="93.6" height="19.3"/><text x="841" y="4119.3">Paul Gauguin</text></g>
<g id="n239" class="b"><rect x="836" y="4158.8" width="138.3" height="19.3"/><text x="841" y="4173.3">Jean-Francois Raffaelli</text></g>
<g id="n240" class="b B"><rect x="1036" y="3728.8" width="87.4" height="19.3"/><text x="1041" y="3743.3">Edgar Degas</text></g>
<g id="n241" class="p"><rect x="1036" y="3808.8" width="91" height="19.3"/><text x="1041" y="3823.3">Kramskoy Ivan</text></g>
<g id="n242" class="p B"><rect x="1036" y="3889.8" width="115.1" height="19.3"/><text x="1041" y="3904.3">Alexei Harlamov</text></g>
<g id="n243" class="p B"><rect x="1036" y="3943.8" width="136.5" height="19.3"/><text x="1041" y="3958.3">Vasily Vereshchagin</text></g>
<g id="n244" class="k"><rect x="1036" y="3996.8" width="100.8" height="19.3"/><text x="1041" y="4011.3">Eakins, Thomas</text></g>
<g id="n245" class="g B"><rect x="1036" y="4131.8" width="119.5" height="19.3"/><text x="1041" y="4146.3">John Waterhouse</text></g>
<g id="n246" class="o B"><rect x="36" y="4238.8" width="120.4" height="19.3"/><text x="41" y="4253.3">Vincent van Gogh</text></g>
<g id="n247" class="b"><rect x="36" y="4319.8" width="77.6" height="19.3"/><text x="41" y="4334.3">Henry Moret</text></g>
<g id="n248" class="k"><rect x="36" y="4399.8" width="152.6" height="19.3"/><text x="41" y="4414.3">Frederick Childe Hassam</text></g>
<g id="n249" class="p"><rect x="36" y="4453.8" width="114.2" height="19.3"/><text x="41" y="4468.3">Constantin Korovin</text></g>
<g id="n250" class="y"><rect x="36" y="4480.8" width="141" height="19.3"/><text x="41" y="4495.3">Theo van Rysselberghe</text></g>
<g id="n251" class="b"><rect x="36" y="4533.8" width="153.5" height="19.3"/><text x="41" y="4548.3">Ferdinand du Puigaudeau</text></g>
<g id="n252" class="o"><rect x="36" y="4587.8" width="106.1" height="19.3"/><text x="41" y="4602.3">Karl Albert Buehr</text></g>
<g id="n253" class="p"><rect x="36" y="4668.8" width="166" height="19.3"/><text x="41" y="4683.3">Vladimirov Ivan Alekseevich</text></g>
<g id="n254" class="k"><rect x="236" y="4238.8" width="143.6" height="19.3"/><text x="241" y="4253.3">John Henry Twachtman</text></g>
<g id="n255" class="p"><rect x="236" y="4372.8" width="129.4" height="19.3"/><text x="241" y="4387.3">Krizhickiy Konstantin</text></g>
<g id="n256" class="b"><rect x="236" y="4399.8" width="110.6" height="19.3"/><text x="241" y="4414.3">Paul Cesar Helleu</text></g>
<g id="n257" class="o"><rect x="236" y="4453.8" width="69.5" height="19.3"/><text x="241" y="4468.3">Lesser Ury</text></g>
<g id="n258" class="v B"><rect x="236" y="4507.8" width="96.3" height="19.3"/><text x="241" y="4522.3">Edvard Munch</text></g>
<g id="n259" class="b B"><rect x="236" y="4560.8" width="107" height="19.3"/><text x="241" y="4575.3">Henri Lebasque</text></g>
<g id="n260" class="k"><rect x="236" y="4614.8" width="96.3" height="19.3"/><text x="241" y="4629.3">Arthur Streeton</text></g>
<g id="n261" class="b"><rect x="236" y="4668.8" width="80.3" height="19.3"/><text x="241" y="4683.3">Albert Andre</text></g>
<g id="n262" class="k"><rect x="436" y="4292.8" width="122.2" height="19.3"/><text x="441" y="4307.3">Frederick McCubbin</text></g>
<g id="n263" class="k"><rect x="436" y="4372.8" width="117.8" height="19.3"/><text x="441" y="4387.3">John Peter Russell</text></g>
<g id="n264" class="p B"><rect x="436" y="4426.8" width="90.1" height="19.3"/><text x="441" y="4441.3">Isaac Levitan</text></g>
<g id="n265" class="b"><rect x="436" y="4453.8" width="95.4" height="19.3"/><text x="441" y="4468.3">Maxime Maufra</text></g>
<g id="n266" class="b B"><rect x="436" y="4507.8" width="84.7" height="19.3"/><text x="441" y="4522.3">Paul Signac</text></g>
<g id="n267" class="p B"><rect x="436" y="4560.8" width="103.5" height="19.3"/><text x="441" y="4575.3">Valentin Serov</text></g>
<g id="n268" class="b"><rect x="436" y="4614.8" width="96.3" height="19.3"/><text x="441" y="4629.3">Bonnard, Pierre</text></g>
<g id="n269" class="p B"><rect x="636" y="4319.8" width="98.1" height="19.3"/><text x="641" y="4334.3">Mikhail Vrubel</text></g>
<g id="n270" class="o"><rect x="636" y="4372.8" width="80.3" height="19.3"/><text x="641" y="4387.3">Lovis Corinth</text></g>
<g id="n271" class="y B"><rect x="636" y="4426.8" width="112.4" height="19.3"/><text x="641" y="4441.3">Alphonse Mucha</text></g>
<g id="n272" class="o B"><rect x="636" y="4480.8" width="87.4" height="19.3"/><text x="641" y="4495.3">Gustav Klimt</text></g>
<g id="n273" class="n"><rect x="636" y="4507.8" width="155.3" height="19.3"/><text x="641" y="4522.3">Joaquin Sorolla y Bastida</text></g>
<g id="n274" class="k"><rect x="636" y="4560.8" width="129.4" height="19.3"/><text x="641" y="4575.3">Emanuel Phillips Fox</text></g>
<g id="n275" class="p"><rect x="636" y="4641.8" width="156.1" height="19.3"/><text x="641" y="4656.3">Bogdanov-Belskiy Nikolay</text></g>
<g id="n276" class="k B"><rect x="836" y="4319.8" width="139.2" height="19.3"/><text x="841" y="4334.3">John Singer Sargent</text></g>
<g id="n277" class="b"><rect x="836" y="4372.8" width="100.8" height="19.3"/><text x="841" y="4387.3">Maximilien Luce</text></g>
<g id="n278" class="b"><rect x="836" y="4426.8" width="76.7" height="19.3"/><text x="841" y="4441.3">Henri Martin</text></g>
<g id="n279" class="p"><rect x="836" y="4480.8" width="95.4" height="19.3"/><text x="841" y="4495.3">Nesterov Mihail</text></g>
<g id="n280" class="b"><rect x="836" y="4507.8" width="88.3" height="19.3"/><text x="841" y="4522.3">Paul Madeline</text></g>
<g id="n281" class="b"><rect x="836" y="4560.8" width="102.6" height="19.3"/><text x="841" y="4575.3">Gustave Loiseau</text></g>
<g id="n282" class="p B"><rect x="836" y="4668.8" width="127.6" height="19.3"/><text x="841" y="4683.3">Sergei Vinogradov</text></g>
<g id="n283" class="b"><rect x="1036" y="4211.8" width="110.6" height="19.3"/><text x="1041" y="4226.3">Jean-Louis Forain</text></g>
<g id="n284" class="b"><rect x="1036" y="4319.8" width="126.7" height="19.3"/><text x="1041" y="4334.3">Henri Edmond Cross</text></g>
<g id="n285" class="b B"><rect x="1036" y="4399.8" width="106.1" height="19.3"/><text x="1041" y="4414.3">Georges Seurat</text></g>
<g id="n286" class="b"><rect x="1036" y="4453.8" width="86.5" height="19.3"/><text x="1041" y="4468.3">Achille Lauge</text></g>
<g id="n287" class="b"><rect x="1036" y="4480.8" width="103.5" height="19.3"/><text x="1041" y="4495.3">Henri Le Sidaner</text></g>
<g id="n288" class="b B"><rect x="1036" y="4533.8" width="175.8" height="19.3"/><text x="1041" y="4548.3">Henri de Toulouse-Lautrec</text></g>
<g id="n289" class="p B"><rect x="1036" y="4587.8" width="123.1" height="19.3"/><text x="1041" y="4602.3">Vasiliy Kandinskiy</text></g>
<g id="n290" class="b B"><rect x="1036" y="4668.8" width="92.8" height="19.3"/><text x="1041" y="4683.3">Henri Matisse</text></g>
<g id="n291" class="y"><rect x="36" y="4721.8" width="105.3" height="19.3"/><text x="41" y="4736.3">Kupka, Frantisek</text></g>
<g id="n292" class="p B"><rect x="36" y="4829.8" width="109.7" height="19.3"/><text x="41" y="4844.3">Konstantin Yuon</text></g>
<g id="n293" class="k"><rect x="36" y="4882.8" width="88.3" height="19.3"/><text x="41" y="4897.3">Stella, Joseph</text></g>
<g id="n294" class="b"><rect x="36" y="4936.8" width="96.3" height="19.3"/><text x="41" y="4951.3">Francis Picabia</text></g>
<g id="n295" class="o"><rect x="36" y="4963.8" width="76.7" height="19.3"/><text x="41" y="4978.3">Marc, Franz</text></g>
<g id="n296" class="k B"><rect x="36" y="5017.8" width="98.1" height="19.3"/><text x="41" y="5032.3">Rockwell Kent</text></g>
<g id="n297" class="k"><rect x="36" y="5044.8" width="133.8" height="19.3"/><text x="41" y="5059.3">Guy Carleton Wiggins</text></g>
<g id="n298" class="o"><rect x="36" y="5070.8" width="97.2" height="19.3"/><text x="41" y="5085.3">Max Beckmann</text></g>
<g id="n299" class="o B"><rect x="36" y="5151.8" width="99" height="19.3"/><text x="41" y="5166.3">Macke, August</text></g>
<g id="n300" class="o B"><rect x="236" y="4748.8" width="95.4" height="19.3"/><text x="241" y="4763.3">Piet Mondrian</text></g>
<g id="n301" class="k"><rect x="236" y="4829.8" width="93.6" height="19.3"/><text x="241" y="4844.3">Edward Cucuel</text></g>
<g id="n302" class="p B"><rect x="236" y="4909.8" width="143.6" height="19.3"/><text x="241" y="4924.3">Kuzma Petrov-Vodkin</text></g>
<g id="n303" class="y B"><rect x="236" y="4963.8" width="106.1" height="19.3"/><text x="241" y="4978.3">Martiros Saryan</text></g>
<g id="n304" class="n B"><rect x="236" y="4990.8" width="95.4" height="19.3"/><text x="241" y="5005.3">Pablo Picasso</text></g>
<g id="n305" class="k"><rect x="236" y="5017.8" width="82.9" height="19.3"/><text x="241" y="5032.3">Elioth Gruner</text></g>
<g id="n306" class="k"><rect x="236" y="5044.8" width="102.6" height="19.3"/><text x="241" y="5059.3">Demuth, Charles</text></g>
<g id="n307" class="b"><rect x="236" y="5097.8" width="106.1" height="19.3"/><text x="241" y="5112.3">Delaunay, Robert</text></g>
<g id="n308" class="b"><rect x="236" y="5178.8" width="66" height="19.3"/><text x="241" y="5193.3">Louis Icart</text></g>
<g id="n309" class="p B"><rect x="436" y="4695.8" width="153.5" height="19.3"/><text x="441" y="4710.3">Victor Borisov-Musatov</text></g>
<g id="n310" class="b"><rect x="436" y="4748.8" width="98.1" height="19.3"/><text x="441" y="4763.3">Gustave Chariot</text></g>
<g id="n311" class="y B"><rect x="436" y="4829.8" width="216" height="19.3"/><text x="441" y="4844.3">Mikalojus Konstantinas Ciurlionis</text></g>
<g id="n312" class="p B"><rect x="436" y="4909.8" width="106.1" height="19.3"/><text x="441" y="4924.3">Boris Kustodiev</text></g>
<g id="n313" class="k"><rect x="436" y="4963.8" width="86.5" height="19.3"/><text x="441" y="4978.3">Daniel Garber</text></g>
<g id="n314" class="y"><rect x="436" y="4990.8" width="89.2" height="19.3"/><text x="441" y="5005.3">Leon De Smet</text></g>
<g id="n315" class="r B"><rect x="436" y="5017.8" width="123.1" height="19.3"/><text x="441" y="5032.3">Boccioni, Umberto</text></g>
<g id="n316" class="b"><rect x="436" y="5044.8" width="97.2" height="19.3"/><text x="441" y="5059.3">Jean Metzinger</text></g>
<g id="n317" class="k B"><rect x="436" y="5124.8" width="88.3" height="19.3"/><text x="441" y="5139.3">Diego Rivera</text></g>
<g id="n318" class="o"><rect x="436" y="5178.8" width="94.5" height="19.3"/><text x="441" y="5193.3">Albers, Joseph</text></g>
<g id="n319" class="p B"><rect x="636" y="4695.8" width="121.3" height="19.3"/><text x="641" y="4710.3">Alexandre Benois</text></g>
<g id="n320" class="p B"><rect x="636" y="4802.8" width="113.3" height="19.3"/><text x="641" y="4817.3">Nicholas Roerich</text></g>
<g id="n321" class="p"><rect x="636" y="4856.8" width="124" height="19.3"/><text x="641" y="4871.3">Constantin Gorbatov</text></g>
<g id="n322" class="g"><rect x="636" y="4909.8" width="143.6" height="19.3"/><text x="641" y="4924.3">Alfred James Munnings</text></g>
<g id="n323" class="b"><rect x="636" y="4963.8" width="120.4" height="19.3"/><text x="641" y="4978.3">Derain, Andre Louis</text></g>
<g id="n324" class="b B"><rect x="636" y="4990.8" width="104.4" height="19.3"/><text x="641" y="5005.3">Leger, Fernand</text></g>
<g id="n325" class="k B"><rect x="636" y="5017.8" width="104.4" height="19.3"/><text x="641" y="5032.3">Edward Hopper</text></g>
<g id="n326" class="o"><rect x="636" y="5044.8" width="124" height="19.3"/><text x="641" y="5059.3">Theos van Doesburg</text></g>
<g id="n327" class="k"><rect x="636" y="5124.8" width="100.8" height="19.3"/><text x="641" y="5139.3">Russell, Morgan</text></g>
<g id="n328" class="r"><rect x="636" y="5178.8" width="115.1" height="19.3"/><text x="641" y="5193.3">Chirico, Giorgio De</text></g>
<g id="n329" class="b"><rect x="836" y="4695.8" width="125.8" height="19.3"/><text x="841" y="4710.3">Georges d'Espagnat</text></g>
<g id="n330" class="k"><rect x="836" y="4802.8" width="141" height="19.3"/><text x="841" y="4817.3">Frederick Carl Frieseke</text></g>
<g id="n331" class="k"><rect x="836" y="4856.8" width="154.4" height="19.3"/><text x="841" y="4871.3">Edmund William Greacen</text></g>
<g id="n332" class="p B"><rect x="836" y="4936.8" width="116" height="19.3"/><text x="841" y="4951.3">Kazimir Malevich</text></g>
<g id="n333" class="o"><rect x="836" y="4963.8" width="134.7" height="19.3"/><text x="841" y="4978.3">Ernst Ludwig Kirchner</text></g>
<g id="n334" class="b"><rect x="836" y="4990.8" width="92.8" height="19.3"/><text x="841" y="5005.3">Gleizes, Albert</text></g>
<g id="n335" class="k"><rect x="836" y="5017.8" width="149" height="19.3"/><text x="841" y="5032.3">Bellows, George Wesley</text></g>
<g id="n336" class="r B"><rect x="836" y="5070.8" width="131.1" height="19.3"/><text x="841" y="5085.3">Amedeo Modigliani</text></g>
<g id="n337" class="b B"><rect x="836" y="5151.8" width="90.1" height="19.3"/><text x="841" y="5166.3">Marc Chagall</text></g>
<g id="n338" class="r"><rect x="1036" y="4721.8" width="95.4" height="19.3"/><text x="1041" y="4736.3">Balla, Giacomo</text></g>
<g id="n339" class="b"><rect x="1036" y="4802.8" width="145.4" height="19.3"/><text x="1041" y="4817.3">Pierre-Eugene Montezin</text></g>
<g id="n340" class="n"><rect x="1036" y="4856.8" width="175.8" height="19.3"/><text x="1041" y="4871.3">Beruete y Moret Aureliano de</text></g>
<g id="n341" class="o B"><rect x="1036" y="4936.8" width="69.5" height="19.3"/><text x="1041" y="4951.3">Paul Klee</text></g>
<g id="n342" class="k"><rect x="1036" y="4963.8" width="95.4" height="19.3"/><text x="1041" y="4978.3">Hofmann, Hans</text></g>
<g id="n343" class="k"><rect x="1036" y="4990.8" width="123.1" height="19.3"/><text x="1041" y="5005.3">Patrick Henry Bruce</text></g>
<g id="n344" class="p B"><rect x="1036" y="5044.8" width="95.4" height="19.3"/><text x="1041" y="5059.3">Pavel Filonov</text></g>
<g id="n345" class="p B"><rect x="1036" y="5070.8" width="143.6" height="19.3"/><text x="1041" y="5085.3">Zinaida Serebriakova</text></g>
<g id="n346" class="b B"><rect x="1036" y="5151.8" width="117.8" height="19.3"/><text x="1041" y="5166.3">Duchamp, Marcel</text></g>
<g id="n347" class="o B"><rect x="36" y="5232.8" width="91" height="19.3"/><text x="41" y="5247.3">Egon Schiele</text></g>
<g id="n348" class="o"><rect x="36" y="5258.8" width="70.4" height="19.3"/><text x="41" y="5273.3">Ernst, Max</text></g>
<g id="n349" class="y B"><rect x="36" y="5446.8" width="96.3" height="19.3"/><text x="41" y="5461.3">Rene Magritte</text></g>
<g id="n350" class="b"><rect x="36" y="5500.8" width="84.7" height="19.3"/><text x="41" y="5515.3">Tanguy, Yves</text></g>
<g id="n351" class="k B"><rect x="36" y="5553.8" width="80.3" height="19.3"/><text x="41" y="5568.3">Frida Kahlo</text></g>
<g id="n352" class="y"><rect x="36" y="5590.8" width="83.8" height="19.3"/><text x="41" y="5605.3">Francois Gall</text></g>
<g id="n353" class="g B"><rect x="36" y="5665.8" width="90.1" height="19.3"/><text x="41" y="5680.3">Lucian Freud</text></g>
<g id="n354" class="g"><rect x="36" y="5695.8" width="74" height="19.3"/><text x="41" y="5710.3">Cook, Beryl</text></g>
<g id="n355" class="k"><rect x="236" y="5232.8" width="90.1" height="19.3"/><text x="241" y="5247.3">Penleigh Boyd</text></g>
<g id="n356" class="k"><rect x="236" y="5285.8" width="80.3" height="19.3"/><text x="241" y="5300.3">Davis, Stuart</text></g>
<g id="n357" class="p"><rect x="236" y="5446.8" width="118.6" height="19.3"/><text x="241" y="5461.3">Grigory Gluckmann</text></g>
<g id="n358" class="k"><rect x="236" y="5523.8" width="84.7" height="19.3"/><text x="241" y="5538.3">Rothko, Mark</text></g>
<g id="n359" class="k"><rect x="236" y="5553.8" width="94.5" height="19.3"/><text x="241" y="5568.3">Porter, Fairfield</text></g>
<g id="n360" class="k"><rect x="236" y="5590.8" width="81.1" height="19.3"/><text x="241" y="5605.3">Louis, Morris</text></g>
<g id="n361" class="k"><rect x="236" y="5665.8" width="119.5" height="19.3"/><text x="241" y="5680.3">Richard Diebenkorn</text></g>
<g id="n362" class="k B"><rect x="236" y="5710.8" width="89.2" height="19.3"/><text x="241" y="5725.3">Andy Warhol</text></g>
<g id="n363" class="k"><rect x="436" y="5232.8" width="122.2" height="19.3"/><text x="441" y="5247.3">Macdonald, Stanton</text></g>
<g id="n364" class="n B"><rect x="436" y="5312.8" width="70.4" height="19.3"/><text x="441" y="5327.3">Joan Miro</text></g>
<g id="n365" class="o B"><rect x="436" y="5446.8" width="77.6" height="19.3"/><text x="441" y="5461.3">M.C.Escher</text></g>
<g id="n366" class="n B"><rect x="436" y="5530.8" width="92.8" height="19.3"/><text x="441" y="5545.3">Salvador Dali</text></g>
<g id="n367" class="y"><rect x="436" y="5560.8" width="50.8" height="19.3"/><text x="441" y="5575.3">Balthus</text></g>
<g id="n368" class="k"><rect x="436" y="5590.8" width="87.4" height="19.3"/><text x="441" y="5605.3">Martin, Agnes</text></g>
<g id="n369" class="k B"><rect x="436" y="5673.8" width="116" height="19.3"/><text x="441" y="5688.3">Lichtenstein, Roy</text></g>
<g id="n370" class="k"><rect x="436" y="5710.8" width="126.7" height="19.3"/><text x="441" y="5725.3">Frankenthaler, Helen</text></g>
<g id="n371" class="r"><rect x="636" y="5232.8" width="101.7" height="19.3"/><text x="641" y="5247.3">Morandi, Giorgio</text></g>
<g id="n372" class="p"><rect x="636" y="5312.8" width="91" height="19.3"/><text x="641" y="5327.3">Chaim Soutine</text></g>
<g id="n373" class="k"><rect x="636" y="5446.8" width="104.4" height="19.3"/><text x="641" y="5461.3">Feitelson, Lorser</text></g>
<g id="n374" class="o B"><rect x="636" y="5530.8" width="134.7" height="19.3"/><text x="641" y="5545.3">Kooning, Willem De</text></g>
<g id="n375" class="b"><rect x="636" y="5568.8" width="105.3" height="19.3"/><text x="641" y="5583.3">Andre Hambourg</text></g>
<g id="n376" class="k"><rect x="636" y="5598.8" width="88.3" height="19.3"/><text x="641" y="5613.3">Guston, Philip</text></g>
<g id="n377" class="k"><rect x="636" y="5680.8" width="102.6" height="19.3"/><text x="641" y="5695.3">Noland, Kenneth</text></g>
<g id="n378" class="b"><rect x="836" y="5205.8" width="85.6" height="19.3"/><text x="841" y="5220.3">Lucien Adrion</text></g>
<g id="n379" class="k"><rect x="836" y="5232.8" width="78.5" height="19.3"/><text x="841" y="5247.3">Tobey, Mark</text></g>
<g id="n380" class="o"><rect x="836" y="5312.8" width="91" height="19.3"/><text x="841" y="5327.3">Grosz, George</text></g>
<g id="n381" class="p B"><rect x="836" y="5473.8" width="129.4" height="19.3"/><text x="841" y="5488.3">Aleksandr Deyneka</text></g>
<g id="n382" class="k"><rect x="836" y="5530.8" width="89.2" height="19.3"/><text x="841" y="5545.3">Gorky, Arshile</text></g>
<g id="n383" class="g B"><rect x="836" y="5568.8" width="101.7" height="19.3"/><text x="841" y="5583.3">Bacon, Francis</text></g>
<g id="n384" class="k B"><rect x="836" y="5628.8" width="100.8" height="19.3"/><text x="841" y="5643.3">Andrew Wyeth</text></g>
<g id="n385" class="k"><rect x="836" y="5688.8" width="87.4" height="19.3"/><text x="841" y="5703.3">Karl Benjamin</text></g>
<g id="n386" class="k"><rect x="1036" y="5205.8" width="129.4" height="19.3"/><text x="1041" y="5220.3">Benton, Thomas Hart</text></g>
<g id="n387" class="k B"><rect x="1036" y="5258.8" width="88.3" height="19.3"/><text x="1041" y="5273.3">Wood, Grant</text></g>
<g id="n388" class="k"><rect x="1036" y="5393.8" width="136.5" height="19.3"/><text x="1041" y="5408.3">Siqueiros, David Alfaro</text></g>
<g id="n389" class="b"><rect x="1036" y="5473.8" width="70.4" height="19.3"/><text x="1041" y="5488.3">Marcel Dyf</text></g>
<g id="n390" class="k"><rect x="1036" y="5538.8" width="106.1" height="19.3"/><text x="1041" y="5553.3">Newman, Barnett</text></g>
<g id="n391" class="k B"><rect x="1036" y="5590.8" width="111.5" height="19.3"/><text x="1041" y="5605.3">Jackson Pollock</text></g>
<g id="n392" class="k"><rect x="1036" y="5650.8" width="76.7" height="19.3"/><text x="1041" y="5665.3">Davis, Gene</text></g>
<g id="n393" class="k"><rect x="1036" y="5688.8" width="131.1" height="19.3"/><text x="1041" y="5703.3">Robert Rauschenberg</text></g>
<g id="n394" class="k"><rect x="36" y="5740.8" width="92.8" height="19.3"/><text x="41" y="5755.3">Estes, Richard</text></g>
<g id="n395" class="k"><rect x="36" y="5808.8" width="75.8" height="19.3"/><text x="41" y="5823.3">Seery, John</text></g>
<g id="n396" class="k"><rect x="36" y="5920.8" width="87.4" height="19.3"/><text x="41" y="5935.3">Cecil Touchon</text></g>
<g id="n397" class="p"><rect x="36" y="6033.8" width="88.3" height="19.3"/><text x="41" y="6048.3">Matorin Viktor</text></g>
<g id="n398" class="g"><rect x="236" y="5755.8" width="88.3" height="19.3"/><text x="241" y="5770.3">Hoyland, John</text></g>
<g id="n399" class="o"><rect x="236" y="5838.8" width="107" height="19.3"/><text x="241" y="5853.3">Peter Angermann</text></g>
<g id="n400" class="k B"><rect x="236" y="5950.8" width="144.5" height="19.3"/><text x="241" y="5965.3">Jean-Michel Basquiat</text></g>
<g id="n401" class="p"><rect x="236" y="6078.8" width="104.4" height="19.3"/><text x="241" y="6093.3">Zyablov Yaroslav</text></g>
<g id="n402" class="k"><rect x="436" y="5770.8" width="80.3" height="19.3"/><text x="441" y="5785.3">Stella, Frank</text></g>
<g id="n403" class="k"><rect x="436" y="5845.8" width="84.7" height="19.3"/><text x="441" y="5860.3">Kevin Larmee</text></g>
<g id="n404" class="p"><rect x="436" y="5965.8" width="171.3" height="19.3"/><text x="441" y="5980.3">Belyukin Dmitriy Anatolevich</text></g>
<g id="n405" class="k B"><rect x="636" y="5725.8" width="91" height="19.3"/><text x="641" y="5740.3">Jasper Johns</text></g>
<g id="n406" class="k"><rect x="636" y="5778.8" width="85.6" height="19.3"/><text x="641" y="5793.3">Davis, Ronald</text></g>
<g id="n407" class="k"><rect x="636" y="5853.8" width="105.3" height="19.3"/><text x="641" y="5868.3">Landfield, Ronnie</text></g>
<g id="n408" class="p"><rect x="636" y="5995.8" width="107" height="19.3"/><text x="641" y="6010.3">Afonin Aleksandr</text></g>
<g id="n409" class="g"><rect x="836" y="5733.8" width="84.7" height="19.3"/><text x="841" y="5748.3">Riley, Bridget</text></g>
<g id="n410" class="k"><rect x="836" y="5778.8" width="101.7" height="19.3"/><text x="841" y="5793.3">Mangold, Robert</text></g>
<g id="n411" class="p"><rect x="836" y="5875.8" width="129.4" height="19.3"/><text x="841" y="5890.3">Averyanov Aleksandr</text></g>
<g id="n412" class="p"><rect x="836" y="5995.8" width="95.4" height="19.3"/><text x="841" y="6010.3">Anohin Nikolay</text></g>
<g id="n413" class="o B"><rect x="1036" y="5740.8" width="111.5" height="19.3"/><text x="1041" y="5755.3">Richter, Gerhard</text></g>
<g id="n414" class="k"><rect x="1036" y="5785.8" width="87.4" height="19.3"/><text x="1041" y="5800.3">Marden, Brice</text></g>
<g id="n415" class="p"><rect x="1036" y="5920.8" width="105.3" height="19.3"/><text x="1041" y="5935.3">Olshanskiy Boris</text></g>
<g id="n416" class="p"><rect x="1036" y="6003.8" width="169.5" height="19.3"/><text x="1041" y="6018.3">Nesterenko Vasiliy Igorevich</text></g>
</g>
<text id="footer" x="1384" y="6209" text-anchor="end">This timeline was created by Alexey Arkhipenko (c) 2016</text>
</g>
</svg>
